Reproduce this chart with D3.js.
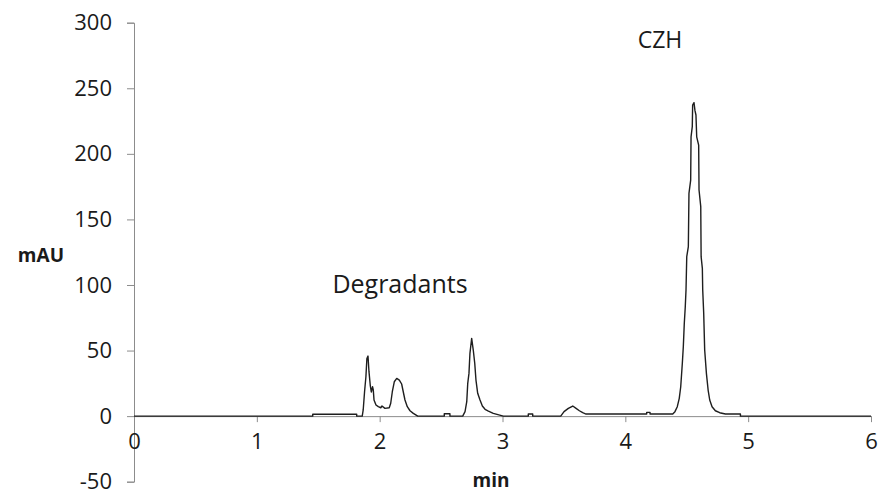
<!DOCTYPE html>
<html>
<head>
<meta charset="utf-8">
<script src="https://cdn.jsdelivr.net/npm/d3@7"></script>
<style>
  body { margin: 0; background: #fff; }
  text { font-family: 'Open Sans', sans-serif; fill: #1a1a1a; }
  .axis-label { font-weight: bold; }
</style>
</head>
<body>
<svg id="chart"></svg>
<script>
// retention time (min) and absorbance (mAU)
const times = [
  0, 1.455, 1.455, 1.813, 1.813, 1.858, 1.866, 1.877, 1.888, 1.896,
  1.905, 1.913, 1.924, 1.932, 1.942, 1.948, 1.954, 1.970, 1.989, 2.009,
  2.019, 2.043, 2.078, 2.090, 2.103, 2.119, 2.139, 2.160, 2.179, 2.192,
  2.206, 2.225, 2.247, 2.274, 2.310, 2.526, 2.526, 2.572, 2.572, 2.676,
  2.695, 2.709, 2.717, 2.727, 2.735, 2.749, 2.762, 2.774, 2.784, 2.798,
  2.817, 2.836, 2.858, 2.885, 2.925, 3.007, 3.210, 3.210, 3.246, 3.246,
  3.474, 3.501, 3.536, 3.572, 3.599, 3.626, 3.653, 3.680, 4.174, 4.174,
  4.201, 4.201, 4.386, 4.404, 4.423, 4.439, 4.451, 4.464, 4.472, 4.480,
  4.488, 4.494, 4.500, 4.513, 4.518, 4.532, 4.535, 4.545, 4.548, 4.559,
  4.567, 4.575, 4.581, 4.597, 4.600, 4.614, 4.617, 4.627, 4.630, 4.638,
  4.646, 4.660, 4.674, 4.687, 4.706, 4.733, 4.768, 4.815, 4.937, 4.937,
  6
]
const mau = [
  0, 0, 1.4, 1.4, 0, 0, 4.7, 18.6, 30, 44,
  45.8, 33.9, 23, 18.4, 22.4, 20, 12.3, 8.5, 7.2, 6.4,
  7.7, 5.9, 6.4, 9.8, 18.6, 26.2, 28.8, 27.5, 24.5, 18.6,
  12.3, 7.2, 4.1, 2.1, 0, 0, 1.8, 1.8, 0, 0,
  3.4, 11, 25, 32.6, 47.9, 59.3, 50.4, 40.3, 27.5, 17.4,
  12.3, 7.7, 5.2, 3.9, 2.1, 0, 0, 1.6, 1.6, 0,
  0, 3.4, 5.9, 7.7, 5.9, 4.1, 2.6, 1.6, 1.6, 2.9,
  2.9, 1.6, 1.6, 3.4, 7.2, 13.6, 22.4, 40.3, 52.9, 70.8,
  83.4, 96.2, 121.6, 129.2, 169.9, 180, 213, 220.7, 237.2, 239,
  232.9, 229.6, 213, 206.7, 172.4, 159.7, 121.6, 112.7, 96.2, 78.4,
  50.4, 32.6, 19.9, 12.3, 7.2, 4.1, 2.6, 1.6, 1.6, 0,
  0
]
const xTicks = [0, 1, 2, 3, 4, 5, 6]
const yTicks = [-50, 0, 50, 100, 150, 200, 250, 300]
const peakLabels = ['Degradants', 'CZH']

const WIDTH = 878
const HEIGHT = 494
const AXIS_COLOR = '#8c8c8c'

const svg = d3.select('#chart')
  .attr('width', WIDTH)
  .attr('height', HEIGHT)

const x = d3.scaleLinear().domain([0, 6]).range([134, 871])
const y = d3.scaleLinear().domain([-50, 300]).range([481.7, 22.7])

// y axis, plain hyphen for negatives like the original
const yAxis = svg.append('g')
  .attr('transform', `translate(${x(0)}, 0)`)
  .call(d3.axisLeft(y)
    .tickValues(yTicks)
    .tickFormat(d => String(d))
    .tickSize(7)
    .tickPadding(15))
yAxis.select('.domain').attr('stroke', AXIS_COLOR)
yAxis.selectAll('.tick line').attr('stroke', AXIS_COLOR)
yAxis.selectAll('.tick text')
  .style('font-size', '22px')
  .attr('fill', '#1a1a1a')

// x axis sits on the zero line
const xAxis = svg.append('g')
  .attr('transform', `translate(0, ${y(0)})`)
  .call(d3.axisBottom(x)
    .tickValues(xTicks)
    .tickFormat(d => String(d))
    .tickSize(6)
    .tickSizeOuter(0)
    .tickPadding(11))
xAxis.select('.domain').attr('stroke', AXIS_COLOR)
xAxis.selectAll('.tick line').attr('stroke', AXIS_COLOR)
xAxis.selectAll('.tick text')
  .style('font-size', '22px')
  .attr('fill', '#1a1a1a')

// trace
const line = d3.line()
  .x((d, i) => x(times[i]))
  .y(d => y(d))

svg.append('path')
  .datum(mau)
  .attr('d', line)
  .attr('fill', 'none')
  .attr('stroke', '#1e1e1e')
  .attr('stroke-width', 1.4)
  .attr('stroke-linejoin', 'round')

// axis titles
svg.append('text')
  .attr('class', 'axis-label')
  .attr('text-anchor', 'end')
  .attr('x', 64)
  .attr('y', 262)
  .style('font-size', '19px')
  .text('mAU')

svg.append('text')
  .attr('class', 'axis-label')
  .attr('text-anchor', 'middle')
  .attr('x', 491)
  .attr('y', 487)
  .style('font-size', '19px')
  .text('min')

// peak annotations
svg.append('text')
  .attr('text-anchor', 'middle')
  .attr('x', 400)
  .attr('y', 293)
  .style('font-size', '25px')
  .text(peakLabels[0])

svg.append('text')
  .attr('text-anchor', 'middle')
  .attr('x', 660)
  .attr('y', 48)
  .style('font-size', '23px')
  .text(peakLabels[1])
</script>
</body>
</html>
